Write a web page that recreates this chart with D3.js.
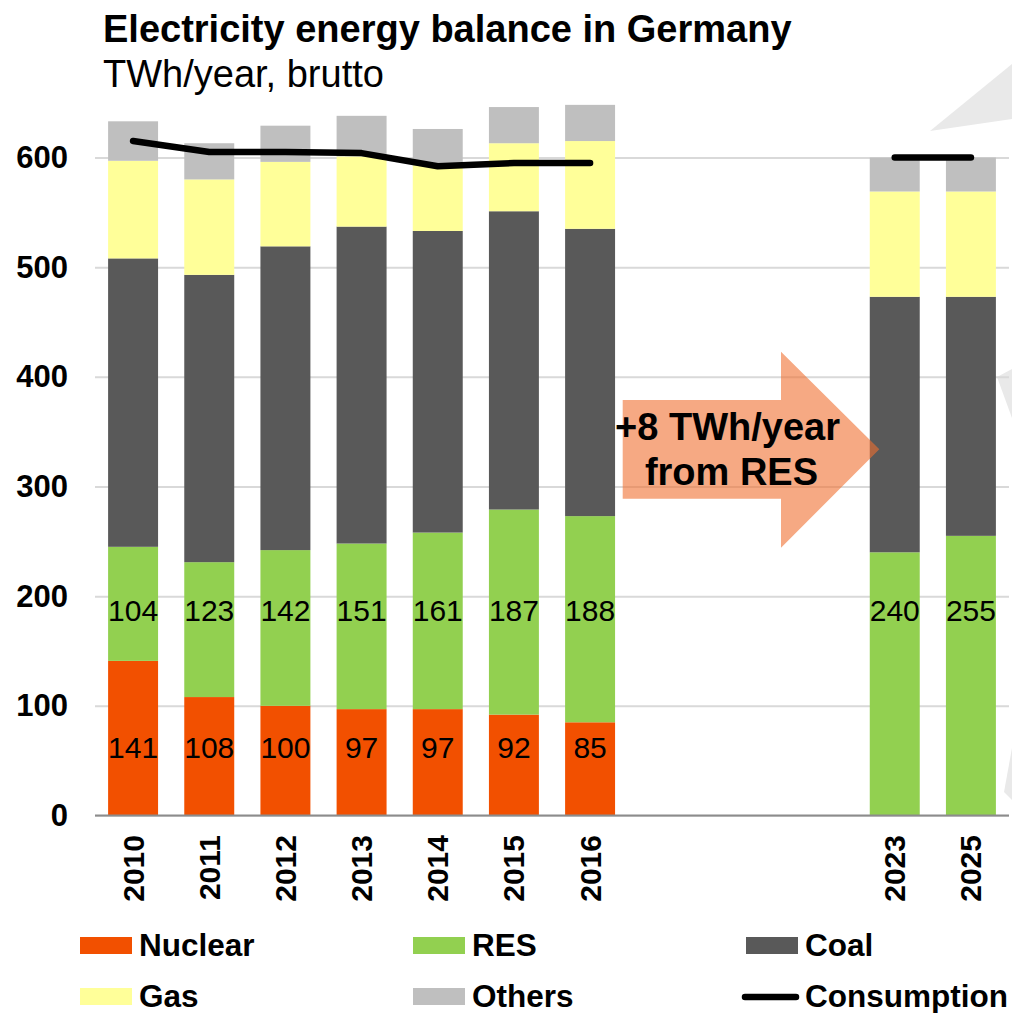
<!DOCTYPE html>
<html>
<head>
<meta charset="utf-8">
<script src="https://cdn.jsdelivr.net/npm/d3@7"></script>
<style>
  html, body { margin: 0; padding: 0; background: #fff; }
  svg { display: block; font-family: "Liberation Sans", Arial, sans-serif; }
</style>
</head>
<body>
<svg id="chart" width="1012" height="1013"></svg>
<script>
const years = ["2010", "2011", "2012", "2013", "2014", "2015", "2016", "2023", "2025"];
const nuclear = [141, 108, 100, 97, 97, 92, 85, 0, 0];
const res = [104, 123, 142, 151, 161, 187, 188, 240, 255];
const coal = [263, 262, 277, 289, 275, 272, 262, 233, 218];
const gas = [89, 87, 77, 64, 60, 62, 80, 96, 96];
const others = [36, 33, 33, 37, 33, 33, 33, 31, 31];
const consumption = [615, 605, 605, 604, 592, 595, 595, 600, 600];
const yTicks = [0, 100, 200, 300, 400, 500, 600];

// empty slots between the history and the forecast
const slots = [...years.slice(0, 7), "gap1", "gap2", "gap3", ...years.slice(7)];

const series = [
  { key: "Nuclear", values: nuclear, color: "#F25000" },
  { key: "RES", values: res, color: "#92D050" },
  { key: "Coal", values: coal, color: "#595959" },
  { key: "Gas", values: gas, color: "#FFFF99" },
  { key: "Others", values: others, color: "#BFBFBF" }
];

const svg = d3.select("#chart");
const left = 95, right = 1009;

const x = d3.scaleBand().domain(slots).range([left, right])
  .paddingInner(0.344).paddingOuter(0.172);
const y = d3.scaleLinear().domain([0, 600]).range([815.5, 157.5]);

// faint background shapes on the right edge
const bg = svg.append("g").attr("fill", "#E9E9E9");
[
  [[930, 131], [1012, 64], [1012, 119]],
  [[997, 377], [1012, 369], [1012, 418]],
  [[1004, 792], [1012, 748], [1012, 800]]
].forEach(p => bg.append("polygon").attr("points", p.join(" ")));

// gridlines + y labels
const yAxis = svg.append("g")
  .attr("transform", `translate(${left},0)`)
  .call(d3.axisLeft(y).tickValues(yTicks).tickSize(-(right - left)).tickPadding(27));
yAxis.select(".domain").remove();
yAxis.selectAll(".tick line").attr("stroke", "#D9D9D9").attr("stroke-width", 2);
yAxis.selectAll(".tick text")
  .attr("font-family", "Liberation Sans, Arial, sans-serif")
  .attr("font-size", 31).attr("font-weight", "bold").attr("fill", "#000");

// stacked bars
const rows = years.map((yr, i) => {
  const r = { year: yr };
  series.forEach(s => r[s.key] = s.values[i]);
  return r;
});
const stacked = d3.stack().keys(series.map(s => s.key))(rows);

svg.append("g").selectAll("g")
  .data(stacked)
  .join("g")
  .attr("fill", (d, i) => series[i].color)
  .selectAll("rect")
  .data(d => d)
  .join("rect")
  .attr("x", d => x(d.data.year))
  .attr("width", x.bandwidth())
  .attr("y", d => y(d[1]))
  .attr("height", d => y(d[0]) - y(d[1]));

// zero line
svg.append("line")
  .attr("x1", left).attr("x2", right)
  .attr("y1", y(0)).attr("y2", y(0))
  .attr("stroke", "#8C8C8C").attr("stroke-width", 2);

// data labels (placed at fixed heights, as in the original)
const labelAt = { Nuclear: 70, RES: 195 };
["Nuclear", "RES"].forEach(key => {
  const s = series.find(d => d.key === key);
  svg.append("g").selectAll("text")
    .data(years.map((yr, i) => ({ yr, v: s.values[i] })).filter(d => d.v > 0))
    .join("text")
    .attr("x", d => x(d.yr) + x.bandwidth() / 2)
    .attr("y", y(labelAt[key]) + 19)
    .attr("text-anchor", "middle")
    .attr("font-size", 30)
    .attr("fill", "#000")
    .text(d => d.v);
});

// x labels
const xAxis = svg.append("g")
  .attr("transform", `translate(0,${y(0)})`)
  .call(d3.axisBottom(x).tickSize(0).tickFormat(d => d.startsWith("gap") ? "" : d));
xAxis.select(".domain").remove();
xAxis.selectAll(".tick text")
  .attr("transform", "rotate(-90)")
  .attr("x", -19.5).attr("y", 0).attr("dy", "0.35em")
  .attr("text-anchor", "end")
  .attr("font-family", "Liberation Sans, Arial, sans-serif")
  .attr("font-size", 30).attr("font-weight", "bold").attr("fill", "#000");

// consumption line, broken between 2016 and 2023
const pts = years.map((yr, i) => ({ yr, v: consumption[i] }));
const segments = [pts.slice(0, 7), pts.slice(7)];
const line = d3.line()
  .x(d => x(d.yr) + x.bandwidth() / 2)
  .y(d => y(d.v));
svg.append("g").selectAll("path")
  .data(segments)
  .join("path")
  .attr("d", line)
  .attr("fill", "none")
  .attr("stroke", "#000")
  .attr("stroke-width", 6.5)
  .attr("stroke-linecap", "round")
  .attr("stroke-linejoin", "round");

// arrow annotation
const arrow = [[622.7, 400], [781, 400], [781, 351.7], [879.3, 449.3], [781, 547.7], [781, 498.7], [622.7, 498.7]];
svg.append("polygon")
  .attr("points", arrow.join(" "))
  .attr("fill", "#F07030")
  .attr("fill-opacity", 0.6);
svg.append("text")
  .attr("text-anchor", "middle")
  .attr("font-size", 38).attr("font-weight", "bold").attr("fill", "#000")
  .selectAll("tspan")
  .data([["+8 TWh/year", 727.5, 440], ["from RES", 731.5, 485]])
  .join("tspan")
  .attr("x", d => d[1]).attr("y", d => d[2])
  .text(d => d[0]);

// title
svg.append("text").attr("x", 103).attr("y", 41.7)
  .attr("font-size", 38).attr("font-weight", "bold")
  .text("Electricity energy balance in Germany");
svg.append("text").attr("x", 103).attr("y", 87)
  .attr("font-size", 38)
  .text("TWh/year, brutto");

// legend
const legendItems = [
  { key: "Nuclear", col: 0, row: 0 },
  { key: "RES", col: 1, row: 0 },
  { key: "Coal", col: 2, row: 0 },
  { key: "Gas", col: 0, row: 1 },
  { key: "Others", col: 1, row: 1 },
  { key: "Consumption", col: 2, row: 1 }
];
const legendCols = [80, 413, 746];
const legendRows = [937, 988];
const lg = svg.append("g").selectAll("g")
  .data(legendItems)
  .join("g")
  .attr("transform", d => `translate(${legendCols[d.col]},${legendRows[d.row]})`);
lg.filter(d => d.key !== "Consumption").append("rect")
  .attr("width", 52).attr("height", 17)
  .attr("fill", d => series.find(s => s.key === d.key).color);
lg.filter(d => d.key === "Consumption").append("line")
  .attr("x1", -1).attr("x2", 50).attr("y1", 9).attr("y2", 9)
  .attr("stroke", "#000").attr("stroke-width", 6.5).attr("stroke-linecap", "round");
lg.append("text")
  .attr("x", 59).attr("y", 19)
  .attr("font-size", 31.5).attr("font-weight", "bold")
  .text(d => d.key);
</script>
</body>
</html>
